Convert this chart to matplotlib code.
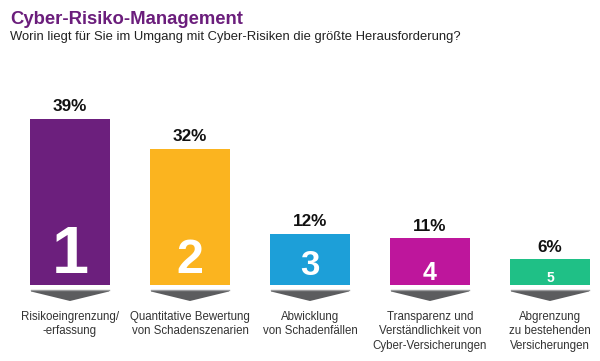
import matplotlib
matplotlib.use("Agg")
import matplotlib.pyplot as plt
from matplotlib import transforms
from matplotlib.patches import Polygon

plt.rcParams['font.family'] = ['Liberation Sans', 'DejaVu Sans']

# data
categories = ["Risikoeingrenzung/\n-erfassung",
              "Quantitative Bewertung\nvon Schadenszenarien",
              "Abwicklung\nvon Schadenfällen",
              "Transparenz und\nVerständlichkeit von\nCyber-Versicherungen",
              "Abgrenzung\nzu bestehenden\nVersicherungen"]
shares = [39, 32, 12, 11, 6]
ranks = ["1", "2", "3", "4", "5"]

colors = ["#6c1f7d", "#fbb41f", "#1d9fd8", "#be169c", "#1fc086"]
digit_sizes = [48, 35, 25, 18, 10]
digit_pad = [12, 12, 10, 5, 3]  # px above bar bottom

W, H = 600, 361
fig = plt.figure(figsize=(W / 100, H / 100), dpi=100)
px = 4.26  # pixels per percent
ax = fig.add_axes([10 / W, 76 / H, 589 / W, 205 / H])
ax.set_xlim(-0.5, -0.5 + 589 / 120)
ax.set_ylim(0, 205 / px)
ax.axis('off')

x = list(range(len(shares)))
ax.bar(x, shares, width=0.66, color=colors)

for i, v in enumerate(shares):
    ax.annotate(f"{v}%", (i, v), xytext=(0, 5.5), textcoords='offset points',
                ha='center', va='baseline', fontsize=12.3, fontweight='bold',
                color='#111111')
    ax.annotate(ranks[i], (i, 0), xytext=(0, digit_pad[i] * 0.72),
                textcoords='offset points', ha='center', va='baseline',
                fontsize=digit_sizes[i], fontweight='bold', color='white')

# grey chevrons under the bars
tr = transforms.blended_transform_factory(ax.transData, fig.transFigure)
y_top = (H - 290) / H
y_edge = (H - 291.5) / H
y_tip = (H - 301) / H
for i in x:
    hw = 0.325
    poly = Polygon([(i - hw, y_top), (i + hw, y_top), (i + hw, y_edge),
                    (i, y_tip), (i - hw, y_edge)], closed=True,
                   transform=tr, facecolor='#5b5c5e', edgecolor='none',
                   clip_on=False)
    fig.add_artist(poly)
    fig.add_artist(plt.Line2D([i - hw, i + hw], [y_top, y_top], transform=tr,
                              color='#9a9b9d', lw=1.0))
    fig.text(i, (H - 311) / H, categories[i], transform=tr,
             ha='center', va='top', fontsize=8.3, color='#333333',
             linespacing=1.25, multialignment='center')

fig.text(10 / W, (H - 24) / H, "Cyber-Risiko-Management", fontsize=13.3,
         fontweight='bold', color='#6b1e7c', ha='left', va='baseline')
fig.text(10 / W, (H - 40) / H,
         "Worin liegt für Sie im Umgang mit Cyber-Risiken die größte Herausforderung?",
         fontsize=9.4, color='#222222', ha='left', va='baseline')

fig.savefig("out.png", dpi=100, facecolor='white')
